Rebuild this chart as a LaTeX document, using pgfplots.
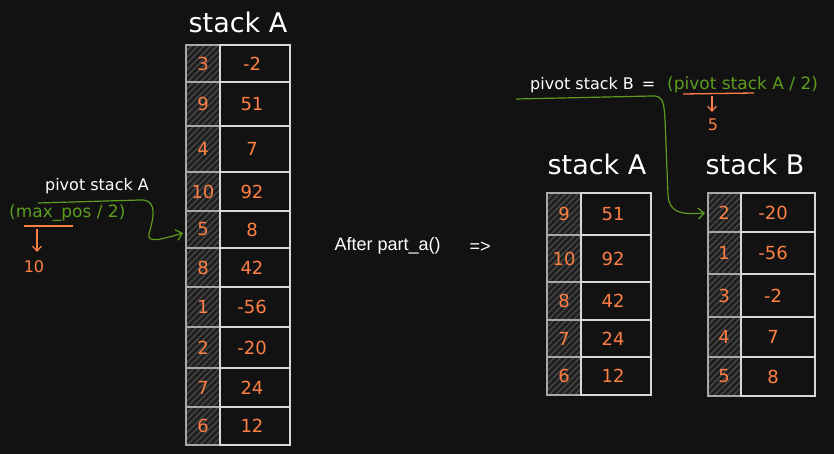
\documentclass[border=0pt]{standalone}
\usepackage{pgfplots}
\pgfplotsset{compat=1.18}
\usepackage{pgfplotstable}
\usetikzlibrary{patterns.meta,arrows.meta}
\usepackage{fontspec}
\setmainfont{DejaVu Sans}
\newfontfamily\arial{Liberation Sans}
\definecolor{bg}{HTML}{121212}
\definecolor{ln}{HTML}{D8D8D8}
\definecolor{idxln}{HTML}{A8A8A8}
\definecolor{org}{HTML}{FF8045}
\definecolor{grn}{HTML}{5E9C1E}
\definecolor{cellfill}{HTML}{1E1E1E}
\definecolor{hatch}{HTML}{444444}

% left stack A (before)
\pgfplotstableread{
yc idx val
63.5 3 -2
104 9 51
149 4 7
191.5 10 92
229.5 5 8
267.5 8 42
307 1 -56
347.5 2 -20
387.5 7 24
426 6 12
}\stackAold
% stack A (after)
\pgfplotstableread{
yc idx val
214 9 51
258.5 10 92
301 8 42
338.5 7 24
376 6 12
}\stackAnew
% stack B (after)
\pgfplotstableread{
yc idx val
212.5 2 -20
253 1 -56
295.5 3 -2
337 4 7
376.5 5 8
}\stackBnew

\newcommand{\cellrow}[5]{%
 \fill[cellfill] (axis cs:#1,#4) rectangle (axis cs:#2,#5);
 \fill[pattern={Lines[angle=45, distance=4.5pt, line width=1.6pt]}, pattern color=hatch] (axis cs:#1,#4) rectangle (axis cs:#2,#5);
 \draw[idxln, line width=1.6pt] (axis cs:#1,#4) rectangle (axis cs:#2,#5);
 \draw[ln, line width=1.1pt] (axis cs:#2,#4) rectangle (axis cs:#3,#5);}

\begin{document}
\begin{tikzpicture}
\begin{axis}[
  width=834pt, height=454pt, scale only axis,
  xmin=0, xmax=834, ymin=0, ymax=454, y dir=reverse,
  hide axis, clip=false,
  every node near coord/.style={anchor=center, text=org, font=\fontsize{18}{20}\selectfont},
]
\fill[bg] (axis cs:0,0) rectangle (axis cs:834,454);

% left stack A
\cellrow{186}{220}{290}{45}{82}
\cellrow{186}{220}{290}{82}{126}
\cellrow{186}{220}{290}{126}{172}
\cellrow{186}{220}{290}{172}{211}
\cellrow{186}{220}{290}{211}{248}
\cellrow{186}{220}{290}{248}{287}
\cellrow{186}{220}{290}{287}{327}
\cellrow{186}{220}{290}{327}{368}
\cellrow{186}{220}{290}{368}{407}
\cellrow{186}{220}{290}{407}{445}
% middle stack A
\cellrow{547}{581}{651}{193}{235}
\cellrow{547}{581}{651}{235}{282}
\cellrow{547}{581}{651}{282}{320}
\cellrow{547}{581}{651}{320}{357}
\cellrow{547}{581}{651}{357}{395}
% stack B
\cellrow{708}{741}{815}{193}{232}
\cellrow{708}{741}{815}{232}{274}
\cellrow{708}{741}{815}{274}{317}
\cellrow{708}{741}{815}{317}{357}
\cellrow{708}{741}{815}{357}{396}

\addplot[draw=none, mark=none, nodes near coords, point meta=explicit symbolic] table[x expr=203, y=yc, meta=idx] {\stackAold};
\addplot[draw=none, mark=none, nodes near coords, point meta=explicit symbolic] table[x expr=252, y=yc, meta=val] {\stackAold};
\addplot[draw=none, mark=none, nodes near coords, point meta=explicit symbolic] table[x expr=564, y=yc, meta=idx] {\stackAnew};
\addplot[draw=none, mark=none, nodes near coords, point meta=explicit symbolic] table[x expr=613, y=yc, meta=val] {\stackAnew};
\addplot[draw=none, mark=none, nodes near coords, point meta=explicit symbolic] table[x expr=724, y=yc, meta=idx] {\stackBnew};
\addplot[draw=none, mark=none, nodes near coords, point meta=explicit symbolic] table[x expr=773, y=yc, meta=val] {\stackBnew};

% titles
\node[text=white, font=\fontsize{27}{30}\selectfont] at (axis cs:238,22) {stack A};
\node[text=white, font=\fontsize{27}{30}\selectfont] at (axis cs:597,164) {stack A};
\node[text=white, font=\fontsize{27}{30}\selectfont] at (axis cs:755,164) {stack B};

% middle text
\node[anchor=west, text=white, font=\arial\fontsize{18}{20}\selectfont] at (axis cs:331,246) {After part\_a()};
\node[anchor=west, text=white, font=\arial\fontsize{18}{20}\selectfont] at (axis cs:466,247) {=>};

% left annotation
\node[text=white, font=\fontsize{16}{18}\selectfont] at (axis cs:97,186) {pivot stack A};
\node[anchor=west, text=grn, font=\fontsize{17}{19}\selectfont, inner sep=0pt] at (axis cs:9,213) {(max\_pos / 2)};
\draw[grn, line width=1.2pt, -{Straight Barb[length=6pt,width=11pt]}]
  (axis cs:38,203) -- (axis cs:140,200) .. controls (axis cs:160,199) and (axis cs:152,222) .. (axis cs:149,234)
  .. controls (axis cs:147,243) and (axis cs:160,240) .. (axis cs:183,233);
\draw[org, line width=1.3pt] (axis cs:24,226) -- (axis cs:73,226);
\draw[org, line width=1.2pt, -{Straight Barb[length=5pt,width=9pt]}] (axis cs:37,229) -- (axis cs:37,252);
\node[text=org, font=\fontsize{16}{18}\selectfont] at (axis cs:34,267) {10};

% right annotation
\node[anchor=west, text=white, font=\fontsize{16}{18}\selectfont, inner sep=0pt] at (axis cs:530,85) {pivot stack B\hspace{8pt}=};
\node[anchor=west, text=grn, font=\fontsize{17}{19}\selectfont, inner sep=0pt] at (axis cs:667,85) {(pivot stack A / 2)};
\draw[grn, line width=1.2pt, -{Straight Barb[length=6pt,width=11pt]}]
  (axis cs:516,99) -- (axis cs:652,96) .. controls (axis cs:664,95) and (axis cs:664,105) .. (axis cs:665,120)
  -- (axis cs:668,195) .. controls (axis cs:669,212) and (axis cs:680,215) .. (axis cs:705,213);
\draw[org, line width=1.3pt] (axis cs:683,94) -- (axis cs:754,93);
\draw[org, line width=1.2pt, -{Straight Barb[length=5pt,width=9pt]}] (axis cs:712,96) -- (axis cs:712,112);
\node[text=org, font=\fontsize{16}{18}\selectfont] at (axis cs:713,125) {5};
\end{axis}
\end{tikzpicture}
\end{document}
